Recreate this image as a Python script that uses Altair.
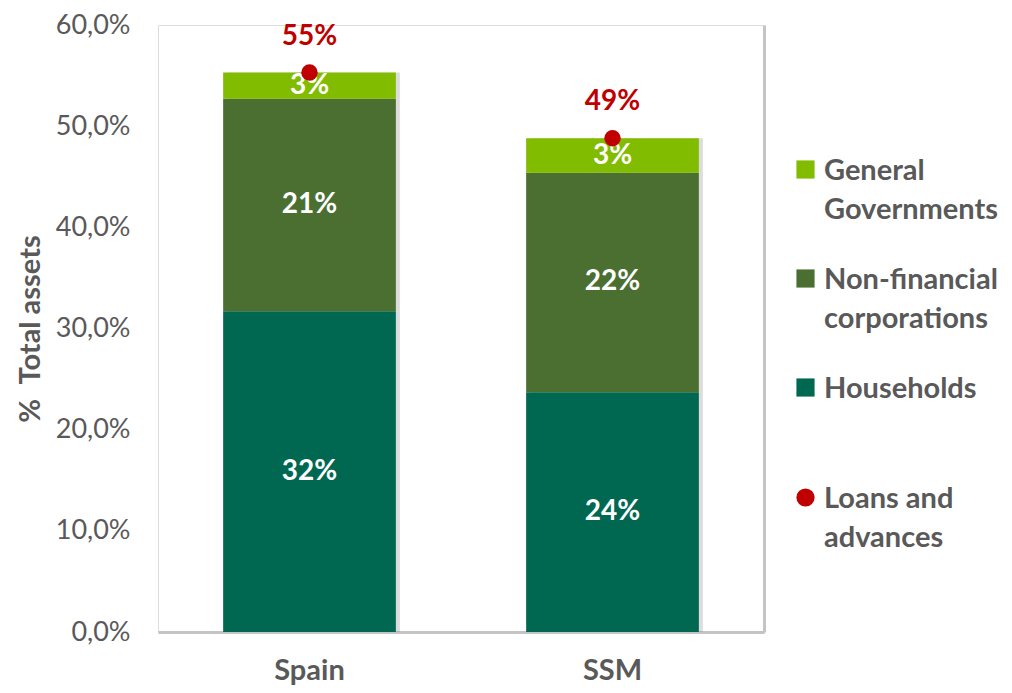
import altair as alt
import pandas as pd

countries = ["Spain", "SSM"]
households = [31.7, 23.7]
nonfin = [21.0, 21.7]
govts = [2.6, 3.4]
loans = [55.3, 48.8]

series_names = ["General Governments", "Non-financial corporations", "Households"]
series_colors = ["#82BC00", "#4A6F31", "#006851"]
y_ticks = [0, 10, 20, 30, 40, 50, 60]

rows = []
for i, c in enumerate(countries):
    rows.append({"country": c, "series": "Households", "ord": 0, "value": households[i]})
    rows.append({"country": c, "series": "Non-financial corporations", "ord": 1, "value": nonfin[i]})
    rows.append({"country": c, "series": "General Governments", "ord": 2, "value": govts[i]})
df = pd.DataFrame(rows)
df_loans = pd.DataFrame({"country": countries, "loans": loans, "series": ["Loans and advances"] * 2})

FONT = "Lato"
GREY = "#595959"
LEG_FS = 29
LABEL_DY = -13

x_scale = alt.Scale(paddingInner=0.43, paddingOuter=0.215)
x_axis = alt.Axis(labelFont=FONT, labelFontWeight="bold", labelFontSize=29,
                  labelColor=GREY, labelPadding=37, ticks=False, domain=True,
                  domainColor="#c4c4c4", domainWidth=3, labelAngle=0)
y_scale = alt.Scale(domain=[0, 60], nice=False)

base = alt.Chart(df).transform_stack(
    stack="value", groupby=["country"], sort=[alt.SortField("ord", order="ascending")],
    as_=["v0", "v1"]
).transform_calculate(mid="(datum.v0 + datum.v1) / 2")

shadow = base.mark_bar(color="#8c8c8c", opacity=0.3, xOffset=4).encode(
    x=alt.X("country:N", sort=countries, scale=x_scale, title=None, axis=x_axis),
    y=alt.Y("v0:Q", scale=y_scale, axis=None),
    y2="v1:Q",
)

bars = base.mark_bar().encode(
    x=alt.X("country:N", sort=countries, scale=x_scale, title=None, axis=x_axis),
    y=alt.Y("v0:Q", scale=y_scale, title="%\u2002Total assets",
            axis=alt.Axis(values=y_ticks,
                          labelExpr="replace(format(datum.value, '.1f'), '.', ',') + '%'",
                          labelFont=FONT, labelFontSize=27, labelColor=GREY, labelPadding=28,
                          labelOffset=-LABEL_DY,
                          ticks=False, domain=False, gridColor="#d9d9d9", gridWidth=2,
                          titleFont=FONT, titleFontWeight="bold", titleFontSize=29,
                          titleColor=GREY, titlePadding=10)),
    y2="v1:Q",
    color=alt.Color("series:N", scale=alt.Scale(domain=series_names, range=series_colors),
                    legend=alt.Legend(title=None, orient="none", legendX=633, legendY=130,
                                      symbolType="square", symbolSize=330, symbolStrokeWidth=0,
                                      labelFont=FONT, labelFontWeight="bold", labelFontSize=LEG_FS,
                                      labelColor=GREY, labelOffset=4, labelLimit=300,
                                      labelBaseline="top", rowPadding=39, padding=0,
                                      labelExpr="split(datum.label, ' ')")),
)

labels = base.mark_text(font=FONT, fontWeight="bold", fontSize=28, color="white",
                        baseline="middle").encode(
    x=alt.X("country:N", sort=countries),
    y=alt.Y("mid:Q", scale=y_scale, axis=None),
    text="lab:N",
).transform_calculate(lab="format(datum.value, '.0f') + '%'")

pts_base = alt.Chart(df_loans)
points = pts_base.mark_point(filled=True, color="#C00000", opacity=1, size=270).encode(
    x=alt.X("country:N", sort=countries),
    y=alt.Y("loans:Q", scale=y_scale,
            axis=alt.Axis(orient="right", labels=False, ticks=False, grid=False, title=None,
                          domain=True, domainColor="#c4c4c4", domainWidth=3)),
    shape=alt.Shape("series:N", scale=alt.Scale(range=["circle"]),
                    legend=alt.Legend(title=None, orient="none", legendX=633, legendY=458,
                                      symbolFillColor="#C00000", symbolStrokeWidth=0,
                                      symbolSize=330, labelFont=FONT, labelFontWeight="bold",
                                      labelFontSize=LEG_FS, labelColor=GREY, labelOffset=4,
                                      labelLimit=300, padding=0, labelBaseline="top",
                                      labelExpr="['Loans and', 'advances']")),
)
tot_labels = pts_base.mark_text(font=FONT, fontWeight="bold", fontSize=28, color="#C00000",
                                baseline="middle", dy=-36).encode(
    x=alt.X("country:N", sort=countries),
    y=alt.Y("loans:Q", scale=y_scale, axis=None),
    text="lab:N",
).transform_calculate(lab="format(datum.loans, '.0f') + '%'")

chart = alt.layer(shadow, bars, labels, points, tot_labels).resolve_axis(y="independent").properties(
    width=606, height=607,
    autosize=alt.AutoSizeParams(type="none"),
    padding={"left": 150, "top": 17, "right": 240, "bottom": 53},
).configure_view(stroke=None).configure(
    style={"guide-label": {"lineHeight": 39, "dy": LABEL_DY}}
)

chart.save("out.html", embed_options={"renderer": "svg", "actions": False})
